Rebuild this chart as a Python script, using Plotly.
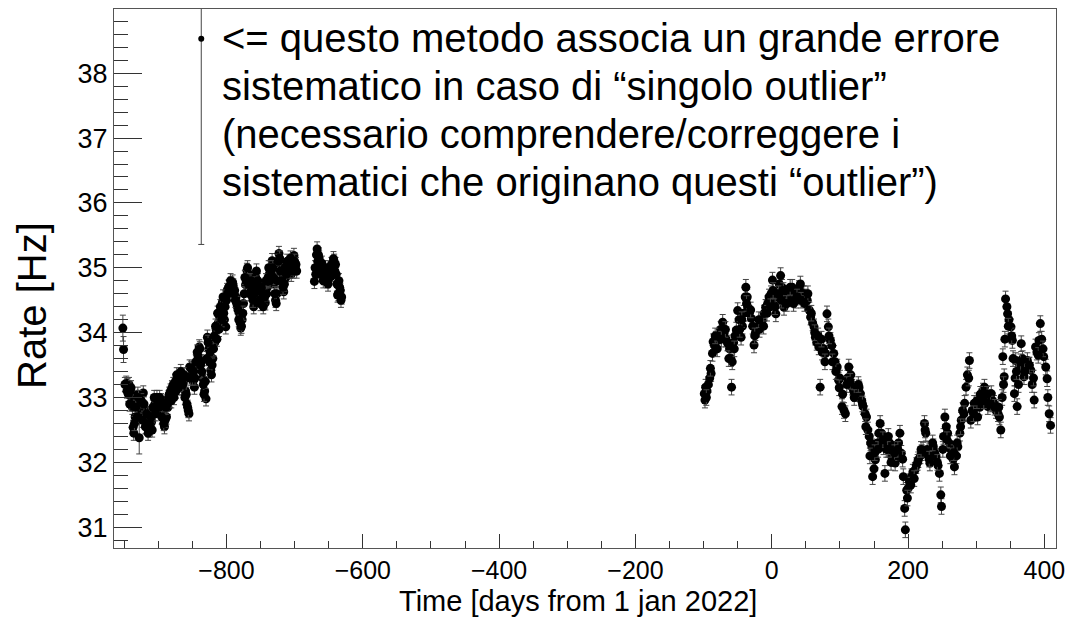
import plotly.graph_objects as go

# ---- data (days from 1 jan 2022, rate [Hz]) ----
# first data taking period
days_a = [-952, -951, -947, -945, -943, -941, -939, -938, -937, -936,
          -934, -932, -930, -928, -926, -924, -922, -920, -918, -916,
          -914, -912, -910, -907, -905, -903, -900, -897, -894, -891,
          -888, -886, -883, -879, -876, -872, -869, -866, -863, -860,
          -857, -855, -854, -851, -849, -847, -844, -842, -840, -837,
          -835, -832, -830, -828, -826, -823, -820, -817, -815, -812,
          -810, -808, -806, -803, -801, -799, -796, -793, -791, -788,
          -786, -784, -781, -779, -777, -775, -772, -770, -767, -765,
          -762, -760, -757, -755, -752, -748, -745, -743, -740, -737,
          -735, -733, -730, -728, -726, -723, -720, -718, -716, -713,
          -710, -708, -705, -703, -701, -699]
rate_a = [34.07, 33.74, 33.22, 33.18, 33.20, 33.10, 33.00, 32.85, 32.54, 32.45,
          32.70, 32.95, 33.05, 32.38, 32.75, 32.85, 33.07, 32.80, 32.70, 32.60,
          32.50, 32.55, 32.62, 32.75, 32.90, 32.85, 32.95, 32.90, 32.80, 32.55,
          32.70, 32.85, 32.95, 33.07, 33.15, 33.20, 33.30, 33.15, 33.25, 33.10,
          32.85, 32.75, 33.47, 33.35, 33.25, 33.16, 33.50, 33.65, 33.78, 33.55,
          33.30, 33.10, 32.98, 33.93, 33.75, 33.42, 33.60, 33.85, 34.04, 34.15,
          34.24, 34.35, 34.47, 34.20, 34.09, 34.65, 34.70, 34.75, 34.78, 34.65,
          34.55, 34.40, 34.30, 34.07, 34.20, 34.45, 34.74, 34.96, 34.90, 34.70,
          34.55, 34.40, 34.85, 34.70, 34.60, 34.55, 34.50, 34.46, 34.70, 34.91,
          35.00, 35.11, 34.75, 34.50, 34.60, 35.22, 35.05, 34.91, 34.63, 34.85,
          34.95, 35.06, 34.90, 35.10, 35.19, 35.00]
err_a = [0.20, 0.20] + [0.11] * 11 + [0.25] + [0.11] * 36 + [0.25] + [0.11] * 55

days_a2 = [-949, -946, -944, -942, -940, -935, -933, -931, -929, -925,
           -923, -921, -919, -917, -915, -913, -911, -909, -908, -906,
           -904, -902, -901, -899, -898, -896, -895, -893, -892, -890,
           -889, -887, -885, -884, -882, -881, -880, -878, -877, -875,
           -874, -873, -871, -870, -868, -867, -865, -864, -862, -861,
           -859, -858, -856, -853, -852, -850, -848, -846, -845, -843,
           -841, -839, -838, -836, -834, -833, -831, -829, -827, -825,
           -824, -822, -821, -819, -818, -816, -814, -813, -811, -809,
           -807, -805, -804, -802, -800, -798, -797, -795, -794, -792,
           -790, -789, -787, -785, -783, -782, -780, -778, -776, -774,
           -773, -771, -769, -768, -766, -764, -763, -761, -759, -758,
           -756, -754, -753, -751, -750, -749, -747, -746, -744, -742,
           -741, -739, -738, -736, -734, -732, -731, -729, -727, -725,
           -724, -722, -721, -719, -717, -715, -714, -712, -711, -709,
           -707, -706, -704, -702, -700, -698, -697]
rate_a2 = [33.20, 33.10, 33.05, 32.90, 33.15, 32.60, 32.85, 32.70, 33.00, 32.95,
           32.65, 32.90, 32.55, 32.75, 32.45, 32.60, 32.70, 32.50, 32.85, 33.00,
           32.75, 33.00, 32.90, 32.85, 33.00, 32.95, 32.70, 32.90, 32.60, 32.65,
           32.85, 32.90, 33.00, 33.05, 33.10, 32.95, 33.15, 33.20, 33.00, 33.25,
           33.10, 33.35, 33.15, 33.20, 33.25, 33.40, 33.30, 33.20, 33.35, 33.00,
           33.05, 32.90, 32.80, 33.30, 33.45, 33.30, 33.40, 33.30, 33.55, 33.70,
           33.60, 33.75, 33.50, 33.40, 33.20, 33.05, 33.25, 33.60, 33.85, 33.55,
           33.70, 33.35, 33.50, 33.75, 33.95, 34.10, 33.90, 34.30, 34.05, 34.40,
           34.20, 34.55, 34.30, 34.40, 34.50, 34.60, 34.70, 34.65, 34.80, 34.70,
           34.72, 34.60, 34.50, 34.45, 34.35, 34.20, 34.15, 34.10, 34.30, 34.60,
           34.85, 34.80, 35.00, 34.75, 34.60, 34.80, 34.65, 34.50, 34.60, 34.75,
           34.95, 34.80, 34.65, 34.50, 34.45, 34.70, 34.60, 34.40, 34.55, 34.80,
           34.60, 34.85, 35.00, 34.80, 34.95, 35.00, 34.85, 34.60, 34.45, 34.80,
           35.10, 35.15, 34.95, 34.80, 34.70, 34.75, 35.00, 34.90, 35.10, 35.00,
           34.95, 35.15, 35.00, 34.95, 35.10, 35.05, 34.95]

# second cluster of the first period
days_c = [-671, -670, -669, -668, -667, -666, -665, -664, -663, -662,
          -661, -660, -659, -658, -657, -656, -655, -654, -653, -652,
          -651, -650, -649, -648, -647, -646, -645, -644, -643, -642,
          -641, -640, -639, -638, -637, -636, -635, -634, -633, -632,
          -631]
rate_c = [34.79, 35.00, 34.90, 35.20, 35.29, 35.10, 35.20, 35.15, 34.95, 35.00,
          34.90, 35.07, 35.00, 34.80, 34.85, 35.00, 34.94, 34.85, 34.95, 34.80,
          34.75, 34.91, 35.00, 34.90, 34.86, 35.05, 35.00, 35.00, 35.14, 35.10,
          34.95, 35.05, 34.90, 34.75, 34.58, 34.60, 34.80, 34.70, 34.65, 34.50,
          34.55]

# second data taking period
days_b = [-99, -98, -97, -95, -93, -91, -89, -87, -86, -84,
          -82, -79, -77, -75, -72, -70, -67, -65, -62, -60,
          -59, -58, -56, -54, -52, -50, -48, -45, -43, -41,
          -39, -38, -36, -35, -33, -30, -28, -26, -24, -21,
          -18, -16, -14, -11, -9, -6, -4, -1, 1, 3,
          6, 8, 11, 13, 15, 18, 20, 23, 25, 28,
          30, 33, 35, 38, 40, 42, 45, 47, 50, 52,
          55, 57, 60, 62, 64, 66, 69, 71, 74, 76,
          79, 81, 83, 86, 88, 91, 93, 96, 98, 100,
          103, 106, 108, 111, 113, 116, 118, 120, 122, 125,
          128, 130, 132, 134, 137, 139, 141, 143, 145, 147,
          148, 150, 152, 155, 157, 159, 161, 164, 166, 168,
          171, 173, 176, 178, 181, 183, 186, 188, 190, 193,
          195, 196, 198, 200, 202, 205, 207, 210, 212, 215,
          218, 220, 222, 224, 226, 228, 230, 232, 234, 237,
          239, 241, 244, 246, 248, 249, 252, 254, 256, 258,
          261, 263, 266, 268, 271, 273, 276, 278, 280, 283,
          285, 287, 290, 292, 294, 297, 299, 302, 305, 307,
          310, 312, 315, 317, 320, 322, 324, 326, 329, 332,
          334, 336, 338, 339, 341, 342, 343, 345, 346, 348,
          351, 353, 354, 356, 357, 358, 360, 362, 364, 366,
          368, 370, 372, 375, 377, 380, 382, 385, 387, 389,
          392, 394, 396, 399, 402, 404, 407, 409]
rate_b = [33.06, 32.96, 33.16, 33.10, 33.20, 33.30, 33.37, 33.68, 33.86, 33.80,
          33.90, 33.88, 33.95, 34.05, 34.16, 33.99, 33.90, 33.84, 33.75, 33.60,
          33.16, 33.55, 33.85, 33.95, 34.04, 34.34, 34.20, 33.93, 34.10, 34.30,
          34.55, 34.70, 34.55, 34.39, 34.30, 34.22, 34.10, 33.81, 34.00, 34.09,
          34.05, 34.15, 34.19, 34.30, 34.39, 34.45, 34.55, 34.60, 34.81, 34.50,
          34.29, 34.55, 34.75, 34.88, 34.70, 34.39, 34.55, 34.60, 34.60, 34.52,
          34.70, 34.60, 34.50, 34.60, 34.68, 34.75, 34.60, 34.60, 34.55, 34.50,
          34.35, 34.24, 34.15, 34.09, 33.93, 33.85, 33.78, 33.16, 33.70, 33.75,
          33.68, 34.29, 34.09, 33.88, 33.80, 33.68, 33.55, 33.47, 33.27, 33.30,
          32.86, 32.80, 32.75, 33.30, 33.47, 33.35, 33.16, 33.10, 33.06, 33.10,
          33.15, 33.06, 32.95, 32.86, 32.75, 32.70, 32.50, 32.40, 32.30, 32.24,
          31.78, 31.90, 32.04, 32.30, 32.45, 32.60, 32.45, 32.24, 31.83, 32.20,
          32.40, 32.30, 32.09, 32.20, 31.99, 32.10, 32.30, 32.45, 32.14, 31.78,
          31.29, 30.96, 31.57, 31.60, 31.70, 31.78, 31.85, 31.88, 31.95, 32.04,
          32.10, 32.15, 32.19, 32.60, 32.45, 32.20, 32.10, 31.99, 32.10, 32.24,
          32.15, 32.09, 31.95, 31.83, 31.50, 31.32, 32.40, 32.70, 32.55, 32.45,
          32.29, 32.20, 32.05, 31.93, 32.10, 32.24, 32.45, 32.65, 32.80, 32.91,
          33.16, 33.35, 33.57, 32.65, 32.80, 32.91, 32.85, 32.70, 32.85, 33.01,
          33.10, 33.16, 32.95, 32.86, 33.00, 33.06, 32.95, 32.91, 32.80, 32.75,
          32.70, 32.50, 33.00, 33.63, 33.32, 33.90, 34.52, 34.40, 34.29, 34.20,
          34.09, 33.88, 33.60, 33.06, 33.30, 33.57, 32.86, 33.20, 33.50, 33.83,
          33.60, 33.32, 33.45, 33.57, 33.50, 33.42, 33.20, 32.96, 33.78, 33.70,
          33.88, 34.14, 33.90, 33.63, 33.47, 33.29, 32.75, 32.57]
err_b = [0.12] * len(rate_b)

days_b2 = [-96, -90, -83, -80, -74, -68, -63, -55, -47, -44,
           -37, -31, -25, -19, -12, -7, -2, 2, 5, 10,
           14, 17, 22, 27, 32, 37, 43, 48, 53, 58,
           63, 68, 73, 78, 84, 89, 94, 99, 104, 110,
           115, 121, 127, 133, 138, 144, 151, 156, 163, 170,
           175, 180, 185, 192, 199, 204, 209, 214, 219, 225,
           231, 236, 243, 251, 257, 262, 267, 272, 277, 282,
           289, 296, 301, 306, 311, 316, 321, 327, 333, 340,
           347, 352, 359, 365, 371, 378, 384, 391, 398, 405]
rate_b2 = [33.00, 33.45, 33.95, 33.75, 33.90, 34.05, 33.60, 33.75, 34.05, 34.20,
           34.45, 34.35, 33.95, 34.20, 34.10, 34.30, 34.40, 34.65, 34.40, 34.60,
           34.50, 34.65, 34.45, 34.70, 34.45, 34.55, 34.50, 34.45, 34.60, 34.30,
           34.00, 33.95, 33.90, 33.55, 33.95, 33.55, 33.40, 33.15, 33.05, 33.20,
           33.25, 33.00, 33.20, 32.90, 32.55, 32.10, 32.15, 32.20, 32.35, 32.20,
           32.00, 32.15, 32.20, 32.05, 31.45, 31.65, 31.75, 32.00, 32.20, 32.50,
           32.05, 32.30, 32.00, 32.20, 32.35, 32.10, 32.15, 32.30, 32.55, 32.75,
           33.30, 32.75, 32.95, 33.05, 32.95, 33.05, 32.90, 32.85, 32.85, 33.20,
           34.10, 33.95, 33.40, 33.55, 33.40, 33.50, 33.30, 33.65, 33.75, 33.00]

# single outlier point
days_out = [-837]
rate_out = [38.53]
err_out = [3.17]

x_range = [-965, 417]
y_range = [30.68, 38.99]

annotation_lines = [
    "<= questo metodo associa un grande errore",
    "sistematico in caso di \u201csingolo outlier\u201d",
    "(necessario comprendere/correggere i",
    "sistematici che originano questi \u201coutlier\u201d)",
]

FONT = "Liberation Sans, Arial, Helvetica, sans-serif"
PLOT_L, PLOT_R, PLOT_T, PLOT_B = 114, 1062, 8, 548
PW, PH = PLOT_R - PLOT_L, PLOT_B - PLOT_T


def px_x(px):
    return (px - PLOT_L) / PW


def px_y(py):
    return (PLOT_B - py) / PH


fig = go.Figure()


def add_series(xs, ys, es, size=9):
    fig.add_trace(go.Scatter(
        x=xs, y=ys, mode="markers",
        marker=dict(color="black", size=size, symbol="circle"),
        error_y=dict(type="data", array=es, visible=True, color="#444444",
                     thickness=1, width=3),
        showlegend=False, cliponaxis=True,
    ))


add_series(days_a, rate_a, err_a)
add_series(days_a2, rate_a2, [0.11] * len(rate_a2))
add_series(days_c, rate_c, [0.11] * len(rate_c))
add_series(days_b, rate_b, err_b)
add_series(days_b2, rate_b2, [0.12] * len(rate_b2))
add_series(days_out, rate_out, err_out, size=6)

line_y = [37, 85, 133, 181]
for txt, yy in zip(annotation_lines, line_y):
    fig.add_annotation(
        text=txt, xref="paper", yref="paper", x=px_x(221), y=px_y(yy),
        xanchor="left", yanchor="middle", align="left", showarrow=False,
        font=dict(family=FONT, size=40, color="black"),
    )

fig.add_annotation(
    text="Time [days from 1 jan 2022]",
    xref="paper", yref="paper", x=px_x(581), y=px_y(601),
    xanchor="center", yanchor="middle", showarrow=False, borderpad=0,
    font=dict(family=FONT, size=29, color="black"),
)
fig.add_annotation(
    text="Rate [Hz]", textangle=-90,
    xref="paper", yref="paper", x=px_x(32), y=px_y(305),
    xanchor="center", yanchor="middle", showarrow=False,
    font=dict(family=FONT, size=40, color="black"),
)

fig.update_xaxes(
    range=x_range, showgrid=False, zeroline=False,
    showline=True, linecolor="#555555", linewidth=1, mirror=True,
    ticks="inside", ticklen=14, tickcolor="#333333", tickwidth=1,
    tick0=0, dtick=200,
    minor=dict(ticks="inside", ticklen=7, dtick=50, tick0=0, tickcolor="#333333", showgrid=False),
    tickfont=dict(family=FONT, size=25, color="black"),
)
fig.update_yaxes(
    range=y_range, showgrid=False, zeroline=False,
    showline=True, linecolor="#555555", linewidth=1, mirror=True,
    ticks="inside", ticklen=28, tickcolor="#333333", tickwidth=1,
    tick0=0, dtick=1,
    minor=dict(ticks="inside", ticklen=14, dtick=0.2, tickcolor="#333333", showgrid=False),
    tickfont=dict(family=FONT, size=27, color="black"),
)

fig.update_layout(
    width=1073, height=620,
    margin=dict(l=PLOT_L, r=1073 - PLOT_R, t=PLOT_T, b=620 - PLOT_B),
    paper_bgcolor="white", plot_bgcolor="white",
    font=dict(family=FONT),
)

fig.write_html("out.html")
